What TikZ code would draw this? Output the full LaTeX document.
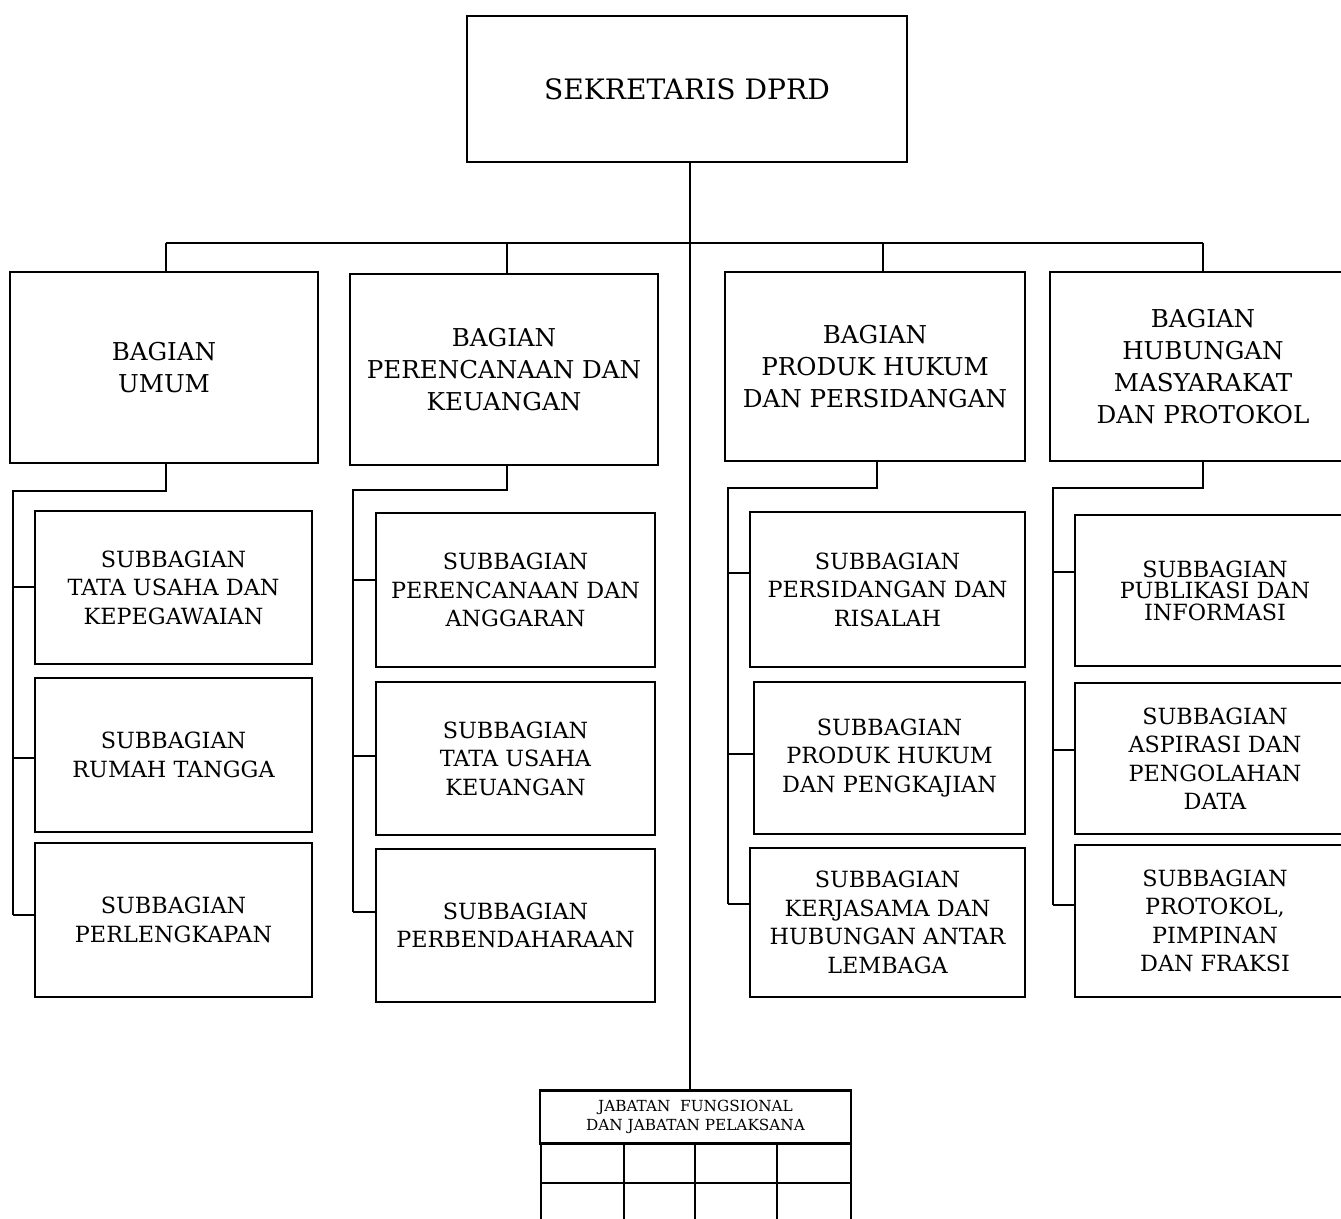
\documentclass[tikz,border=0pt]{standalone}
\usepackage{fontspec}
\setmainfont{DejaVu Serif}
\usetikzlibrary{calc}

\begin{document}
\begin{tikzpicture}[x=0.02cm,y=-0.02cm,line width=1.55pt,
		box/.style={draw,rectangle,align=center,inner sep=0pt},
		headbox/.style={box,font=\fontsize{14}{18.1}\selectfont},
		subbox/.style={box,font=\fontsize{12.7}{16.2}\selectfont},
		size/.style 2 args={minimum width=#1*0.02cm,minimum height=#2*0.02cm}]
		\useasboundingbox (0,0) rectangle (1341,1219);
		\clip (0,0) rectangle (1341,1219);
		% coordinates
		\coordinate (spine) at (690,243); % main line
		% top
		\node[box,size={440}{146},font=\fontsize{16}{19}\selectfont] (top) at (687,89) {SEKRETARIS DPRD};
		% bagian
		\node[headbox,size={308}{191}] (B1) at (164,367.5) {BAGIAN\\UMUM};
		\node[headbox,size={308}{191}] (B2) at (504,369.5) {BAGIAN\\PERENCANAAN DAN\\KEUANGAN};
		\node[headbox,size={300}{189}] (B3) at (875,366.5) {BAGIAN\\PRODUK HUKUM\\DAN PERSIDANGAN};
		\node[headbox,size={306}{189}] (B4) at (1203,366.5) {BAGIAN\\HUBUNGAN\\MASYARAKAT\\DAN PROTOKOL};
		% jabatan fungsional
		\node[box,size={311}{53},font=\fontsize{8.7}{10.8}\selectfont] (jab) at (695.5,1117) {JABATAN~~FUNGSIONAL\\DAN JABATAN PELAKSANA};
		% subbagian
		\foreach \c/\r/\x/\y/\w/\h/\bx/\k/\t in {
			1/1/173.5/587.5/277/153/13/587/{SUBBAGIAN\\TATA USAHA DAN\\KEPEGAWAIAN},
			1/2/173.5/755/277/154/13/758/{SUBBAGIAN\\RUMAH TANGGA},
			1/3/173.5/920/277/154/13/915/{SUBBAGIAN\\PERLENGKAPAN},
			2/1/515.5/590/279/154/353/580/{SUBBAGIAN\\PERENCANAAN DAN\\ANGGARAN},
			2/2/515.5/758.5/279/153/353/756/{SUBBAGIAN\\TATA USAHA\\KEUANGAN},
			2/3/515.5/925.5/279/153/353/912/{SUBBAGIAN\\PERBENDAHARAAN},
			3/1/887.5/589.5/275/155/728/573/{SUBBAGIAN\\PERSIDANGAN DAN\\RISALAH},
			3/2/889.5/758/271/152/728/754/{SUBBAGIAN\\PRODUK HUKUM\\DAN PENGKAJIAN},
			3/3/887.5/922.5/275/149/728/904/{SUBBAGIAN\\KERJASAMA DAN\\HUBUNGAN ANTAR\\LEMBAGA},
			4/1/1215/590.5/280/151/1053/572/{SUBBAGIAN\\[-4pt]PUBLIKASI DAN\\[-4pt]INFORMASI},
			4/2/1215/758.5/280/151/1053/750/{SUBBAGIAN\\ASPIRASI DAN\\PENGOLAHAN\\DATA},
			4/3/1215/921/280/152/1053/905/{SUBBAGIAN\\PROTOKOL,\\PIMPINAN\\DAN FRAKSI}}
		{
			\node[subbox,size={\w}{\h}] (S\c\r) at (\x,\y) {\t};
			\draw (\bx,\k) -- (\bx,\k -| S\c\r.west);
		}
		% lines
		\draw (spine |- top.south) -- (spine |- jab.north);
		\draw (166,243) -- (1203,243);
		\foreach \c/\tx/\dx/\by/\bx/\ky in {1/166/166/491/13/915,2/507/507/490/353/912,3/883/877/488/728/904,4/1203/1203/488/1053/905}
		{
			\draw (\tx,243) -- (\tx,243 |- B\c.north);
			\draw (\dx,0 |- B\c.south) |- (\bx,\by) -- (\bx,\ky);
		}
		% table under jab
		\foreach \x in {541,624,695,777,851}
		\draw (\x,0 |- jab.south) -- (\x,1240);
		\draw (541,1183) -- (851,1183);
	\end{tikzpicture}
\end{document}
